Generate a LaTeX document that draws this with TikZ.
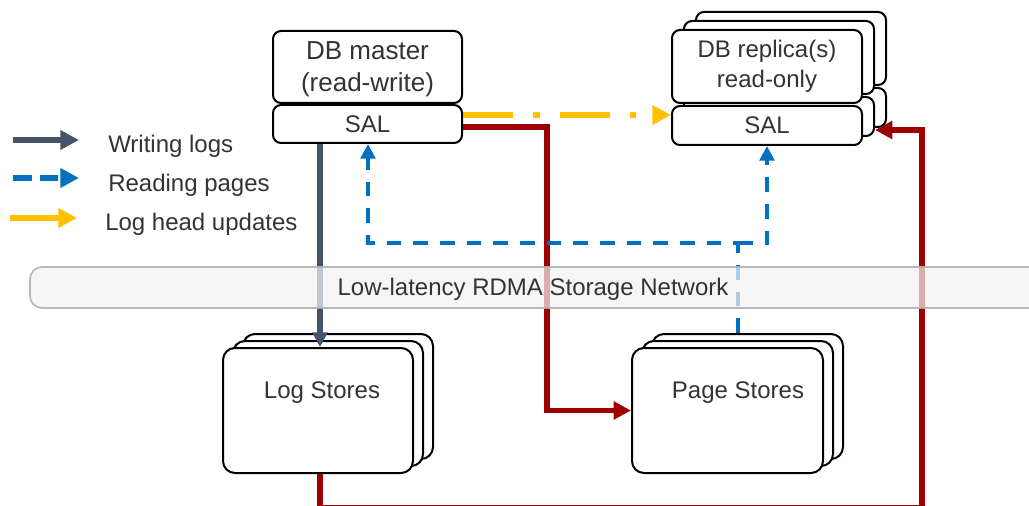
\documentclass[tikz,border=0pt]{standalone}
\usepackage{fontspec}
\setmainfont{Liberation Sans}
\usetikzlibrary{arrows.meta,fit,calc}
\definecolor{wlog}{HTML}{44546A}
\definecolor{rpage}{HTML}{0070C0}
\definecolor{lhead}{HTML}{FFC000}
\definecolor{dred}{HTML}{9C0000}
\definecolor{txt}{HTML}{333333}
\begin{document}
\begin{tikzpicture}[x=0.75pt,y=-0.75pt,
  box/.style={draw=black,line width=1.5pt,rounded corners=6pt,fill=white,inner sep=0pt},
  lbl/.style={font=\fontsize{18}{22.5}\selectfont,text=txt,align=center,inner sep=0pt},
  biglbl/.style={font=\fontsize{19.5}{24}\selectfont,text=txt,align=center,inner sep=0pt},
  wl/.style={draw=wlog,line width=4pt,-{Triangle[length=11pt,width=11pt]}},
  wlleg/.style={draw=wlog,line width=4.5pt,-{Triangle[length=14pt,width=14pt]}},
  rp/.style={draw=rpage,line width=2.6pt,dash pattern=on 11pt off 9pt,-{Triangle[length=11pt,width=11pt]}},
  rpleg/.style={draw=rpage,line width=4.5pt,dash pattern=on 14pt off 6pt,-{Triangle[length=14pt,width=14pt]}},
  lhleg/.style={draw=lhead,line width=4.5pt,-{Triangle[length=14pt,width=14pt]}},
  lhd/.style={draw=lhead,line width=4pt,dash pattern=on 37.5pt off 15pt on 5pt off 15pt,-{Triangle[length=14pt,width=14pt]}},
  rd/.style={draw=dred,line width=4pt,-{Triangle[length=13pt,width=13pt]}},
  band/.style={draw=gray!60,fill=gray!10,fill opacity=0.72,draw opacity=0.9,line width=1.3pt,rounded corners=9pt,inner sep=0pt}
]
\useasboundingbox (0,0) rectangle (1029,506);
\clip (0,0) rectangle (1029,506);

% DB master
\node[box,fit={(273,31) (462,103)}] (mup) {};
\node[box,fit={(273,105) (462,143)}] (msal) {};
\node[biglbl] (mtxt) at ($(mup.center)+(0,2)$) {DB master\\(read-write)};
\node[lbl] (msaltxt) at (msal.center) {SAL};

% DB replicas (stack)
\node[box,fit={(696,12) (886,85)}] (rup3) {};
\node[box,fit={(696,88) (886,127)}] (rsal3) {};
\node[box,fit={(684,21) (874,94)}] (rup2) {};
\node[box,fit={(684,97) (874,136)}] (rsal2) {};
\node[box,fit={(672,30) (862,103)}] (rup) {};
\node[box,fit={(672,106) (862,145)}] (rsal) {};
\node[lbl] (rtxt) at (rup.center) {DB replica(s)\\read-only};
\node[lbl] (rsaltxt) at (rsal.center) {SAL};

% Log stores
\node[box,rounded corners=9pt,fit={(243,334) (433,459)}] (logc3) {};
\node[box,rounded corners=9pt,fit={(233,341) (423,466)}] (logc2) {};
\node[box,rounded corners=9pt,fit={(223,348) (413,473)}] (logf) {};
\node[lbl] (logtxt) at (322,393) {Log Stores};

% Page stores
\node[box,rounded corners=9pt,fit={(652,334) (843,459)}] (pagec3) {};
\node[box,rounded corners=9pt,fit={(642,341) (833,466)}] (pagec2) {};
\node[box,rounded corners=9pt,fit={(632,348) (823,473)}] (pagef) {};
\node[lbl] (pagetxt) at (738,393) {Page Stores};

% Legend
\coordinate (l1a) at (13,140); \coordinate (l1b) at (79,140);
\coordinate (l2a) at (13,178); \coordinate (l2b) at (79,178);
\coordinate (l3a) at (10,218); \coordinate (l3b) at (77,218);
\draw[wlleg] (l1a) -- (l1b);
\draw[rpleg] (l2a) -- (l2b);
\draw[lhleg] (l3a) -- (l3b);
\node[lbl,anchor=west] (t1) at (108,146) {Writing logs};
\node[lbl,anchor=west] (t2) at (108,185) {Reading pages};
\node[lbl,anchor=west] (t3) at (105,224) {Log head updates};

% Connectors
\coordinate (wx) at (320,0);
\draw[wl] (msal.south -| wx) -- (logf.north -| wx);

\coordinate (ra) at (547,127);
\draw[rd] (msal.east |- ra) -- (ra) |- (pagef.west);

\coordinate (rb1) at (320,507.5);
\coordinate (rb2) at (922,507.5);
\coordinate (rt) at (922,130);
\draw[rd] (logf.south -| wx) -- (rb1) -- (rb2) -- (rt) -- (rt -| rsal2.east);

\coordinate (ya) at (462,115);
\draw[lhd] (msal.east |- ya) -- (rsal.west |- ya);

\coordinate (j) at (738,243);
\coordinate (bm) at (368,0);
\coordinate (br) at (767,0);
\draw[rp] (pagec3.north -| j) -- (j) -- (j -| bm) -- (msal.south -| bm);
\draw[rp] (j) -- (j -| br) -- (rsal.south -| br);

% Network band
\node[band,fit={(30,267) (1070,308)}] (net) {};
\node[lbl] (nettxt) at (533,289) {Low-latency RDMA Storage Network};
\end{tikzpicture}
\end{document}
